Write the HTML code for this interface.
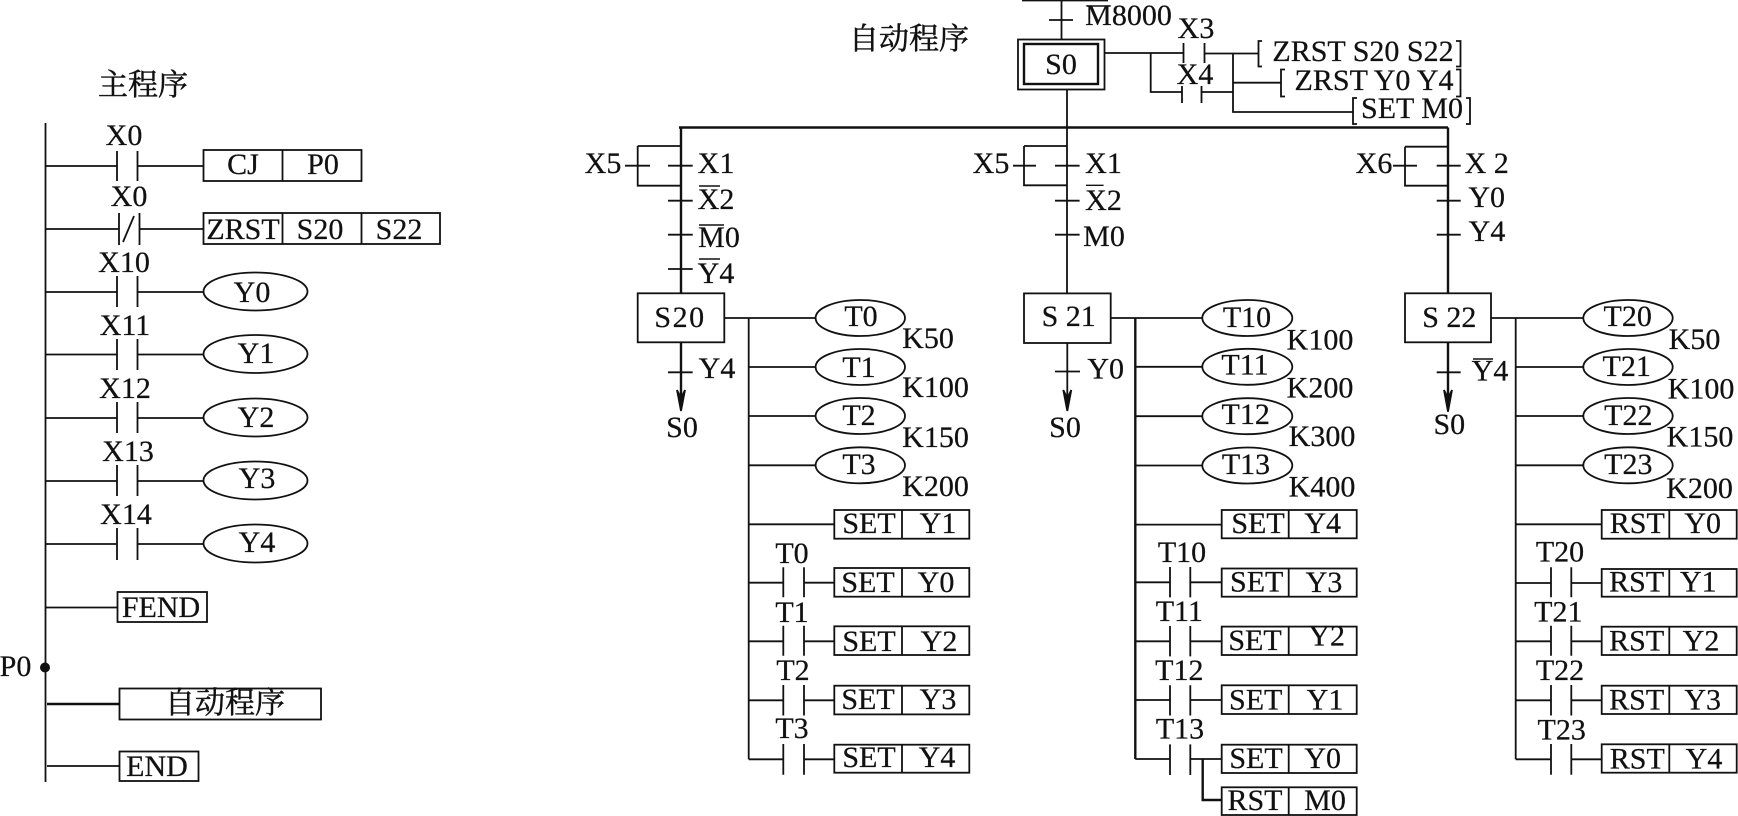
<!DOCTYPE html>
<html><head><meta charset="utf-8"><style>
html,body{margin:0;padding:0;background:#fff}
svg{display:block}
text{font-family:"Liberation Serif","Noto Serif CJK SC",serif;font-size:30px;fill:#111;stroke:#111;stroke-width:.25;text-anchor:middle}
.c{font-family:"Noto Serif CJK SC","Liberation Serif",serif;font-size:30px;text-anchor:start;stroke-width:.5}
path,rect,ellipse{fill:none;stroke:#111;stroke-width:1.8}
.b{stroke-width:2.4}
.t{stroke-width:1.4}
</style></head><body>
<svg width="1738" height="816" viewBox="0 0 1738 816" xmlns="http://www.w3.org/2000/svg">
<rect x="0" y="0" width="1738" height="816" style="fill:#fff;stroke:none"/>
<!-- main program -->
<text class="c" x="98" y="95">主程序</text>
<path d="M45.5 123V782"/>
<path d="M45 166H117M117 151V181M137.5 151V181M137.5 166H203.5"/>
<path d="M45 229H119M119 213V245M139.5 213V245M139.5 229H203.5M123 242L134 216"/>
<path d="M45 292H117M117 276V307M137.5 276V307M137.5 292H203.5"/>
<path d="M45 354.500H117M117 339V370M137.500 339V370M137.500 354.500H203.500"/>
<path d="M45 418H117M117 402V433M137.500 402V433M137.500 418H203.500"/>
<path d="M45 481H117M117 465V496M137.500 465V496M137.500 481H203.500"/>
<path d="M45 544H117M117 528V560M137.500 528V560M137.500 544H203.500"/>
<rect x="203.500" y="150" width="158" height="31"/><path d="M282.500 150V181"/>
<rect x="203.500" y="213" width="236.500" height="31"/><path d="M282.500 213V244M361.500 213V244"/>
<ellipse cx="255.500" cy="291.500" rx="52" ry="19"/>
<ellipse cx="255.500" cy="354" rx="52" ry="19"/>
<ellipse cx="255.500" cy="417.500" rx="52" ry="19"/>
<ellipse cx="255.500" cy="480.500" rx="52" ry="19"/>
<ellipse cx="255.500" cy="543.500" rx="52" ry="19"/>
<text x="124" y="145">X0</text><text x="129" y="206">X0</text><text x="124" y="272">X10</text><text x="125" y="335">X11</text><text x="125" y="398">X12</text><text x="128" y="461">X13</text><text x="126" y="524">X14</text>
<text x="243" y="174">CJ</text><text x="323" y="174">P0</text>
<text x="243" y="239">ZRST</text><text x="320" y="239">S20</text><text x="399" y="239">S22</text>
<text x="252" y="302">Y0</text><text x="256" y="363">Y1</text><text x="256" y="427">Y2</text><text x="257" y="488">Y3</text><text x="257" y="552">Y4</text>
<path d="M45 607.500H117.500"/><rect x="117.500" y="592" width="89.500" height="30"/><text x="161" y="617">FEND</text>
<text x="15.500" y="676">P0</text><circle cx="45" cy="667.500" r="5" style="fill:#111"/>
<path class="b" d="M47 704H119.500"/><rect x="119.500" y="688.500" width="201.500" height="31"/><text class="c" x="165" y="713">自动程序</text>
<path d="M47 766H119.500"/><rect x="119.500" y="751.500" width="79" height="29.500"/><text x="157" y="776">END</text>

<!-- top -->
<text class="c" x="849" y="49">自动程序</text>
<path d="M1022 .5H1108M1061.500 0V39.500M1049 20H1073"/>
<path class="t" d="M1087 6H1110"/>
<text x="1128.500" y="25">M8000</text>
<rect x="1018" y="39.500" width="86.500" height="50"/><rect x="1024" y="44" width="74" height="40" class="b"/>
<text x="1061" y="74">S0</text>
<path d="M1104.500 53H1183.500M1183.500 43V63M1204.500 43V63M1204.500 53.500H1258"/>
<path d="M1150.700 53V92H1182M1182 86V103M1201.500 86V103M1201.500 92H1233M1233 53.500V112H1353M1233 82.700H1281"/>
<path d="M1262 41H1258.500V66.500H1262M1285 69.500H1281V96.500H1285M1357 98H1353V124H1357M1456 41H1460.500V66.500H1456M1456 69.500H1460.500V96.500H1456M1466 98H1470V124H1466"/>
<text x="1196" y="38">X3</text><text x="1195" y="84">X4</text>
<text x="1363" y="61">ZRST S20 S22</text><text x="1374" y="90">ZRST Y0 Y4</text><text x="1412" y="118">SET M0</text>
<path class="b" d="M679 127.500H1448"/>

<!-- branch 1 -->
<path class="b" d="M681 127.500V293.300M681 342.300V398"/>
<path d="M637.700 146H681M637.700 146V185.700H681"/>
<path d="M625 165.700H650M668 165.700H692.700M668 200.700H692.700M668 234.700H692.700M668 269H692.700M668 372.300H692.700"/>
<path class="t" d="M699 186H720M699 225H724M699 259H720"/>
<text x="603" y="173">X5</text><text x="716" y="173">X1</text><text x="716" y="209">X2</text><text x="719" y="247">M0</text><text x="716" y="283">Y4</text>
<rect x="637.700" y="293.300" width="86.600" height="49"/><text x="680" y="327" style="letter-spacing:1.500px">S20</text>
<path d="M677 390L681 398L685 390L681 411Z" style="fill:#111"/>
<text x="717" y="378">Y4</text><text x="682" y="437">S0</text>
<path d="M724.300 318H815.700M748.700 318V759.300M748.700 367H815.700M748.700 416H815.700M748.700 465.300H815.700"/>
<ellipse cx="860.300" cy="318" rx="44.700" ry="18"/><ellipse cx="860.300" cy="367" rx="44.700" ry="18"/><ellipse cx="860.300" cy="416" rx="44.700" ry="18"/><ellipse cx="860.300" cy="465.300" rx="44.700" ry="18"/>
<text x="861" y="326">T0</text><text x="859" y="377">T1</text><text x="859" y="425">T2</text><text x="859" y="474">T3</text>
<text x="928" y="348">K50</text><text x="935.500" y="397">K100</text><text x="935.500" y="447">K150</text><text x="935.500" y="496">K200</text>
<path d="M748.700 524.300H834.300"/>
<path d="M748.700 582.700H783.300M783.300 567.300V597.300M804 567.300V597.300M804 582.700H834.300"/>
<path d="M748.700 641.300H783.300M783.300 625.700V655.700M804 625.700V655.700M804 641.300H834.300"/>
<path d="M748.700 700.300H783.300M783.300 685V715.500M804 685V715.500M804 700.300H834.300"/>
<path d="M748.700 759.300H783.300M783.300 744V774.700M804 744V774.700M804 759.300H834.300"/>
<rect x="834.300" y="510" width="135" height="28.700"/><path d="M902 510V538.700"/>
<rect x="834.300" y="568" width="135" height="28.700"/><path d="M902 568V596.700"/>
<rect x="834.300" y="626.300" width="135" height="28.700"/><path d="M902 626.300V655"/>
<rect x="834.300" y="685.700" width="135" height="28.700"/><path d="M902 685.700V714.300"/>
<rect x="834.300" y="744.700" width="135" height="28"/><path d="M902 744.700V772.700"/>
<text x="869" y="533">SET</text><text x="938" y="533">Y1</text>
<text x="868" y="592">SET</text><text x="936" y="592">Y0</text>
<text x="869" y="651">SET</text><text x="939" y="651">Y2</text>
<text x="868" y="709">SET</text><text x="938" y="709">Y3</text>
<text x="869" y="767">SET</text><text x="937" y="767">Y4</text>
<text x="792" y="563">T0</text><text x="792" y="622">T1</text><text x="793" y="680">T2</text><text x="792" y="738">T3</text>

<!-- branch 2 -->
<path d="M1067 89.500V293.300M1024 146H1067M1024 146V185.300H1067"/>
<path d="M1013 165.700H1036M1055 165.700H1079.600M1055 200.700H1079.600M1055 234.700H1079.600"/>
<path class="t" d="M1086 185.300H1103.600"/>
<text x="991" y="173">X5</text><text x="1103.500" y="173">X1</text><text x="1103.500" y="210">X2</text><text x="1104" y="246">M0</text>
<rect x="1024" y="293.400" width="86.700" height="49.600"/><text x="1068.700" y="326">S 21</text>
<path d="M1067.300 343V398M1055 371.500H1080"/>
<path d="M1063.300 390L1067.300 398L1071.300 390L1067.300 411Z" style="fill:#111"/>
<text x="1105.700" y="378.500">Y0</text><text x="1065" y="437">S0</text>
<path d="M1110.700 318H1202.300M1135.300 366.800H1202.300M1135.300 416.200H1202.300M1135.300 465.500H1202.300"/>
<path class="b" d="M1135.300 318V759"/>
<ellipse cx="1247.300" cy="318" rx="45" ry="18"/><ellipse cx="1247.300" cy="366.800" rx="45" ry="18"/><ellipse cx="1247.300" cy="416.200" rx="45" ry="18"/><ellipse cx="1247.300" cy="465.500" rx="45" ry="18"/>
<text x="1247" y="327">T10</text><text x="1245" y="374.500">T11</text><text x="1245.700" y="424">T12</text><text x="1246" y="474">T13</text>
<text x="1320" y="349.500">K100</text><text x="1320" y="397.500">K200</text><text x="1322" y="446">K300</text><text x="1322" y="496.500">K400</text>
<path d="M1135.300 524.600H1221.700"/>
<path d="M1135.300 582.300H1170M1170 567V597.400M1190.300 567V597.400M1190.300 582.300H1221.700"/>
<path d="M1135.300 641.300H1170M1170 626V656.400M1190.300 626V656.400M1190.300 641.300H1221.700"/>
<path d="M1135.300 700H1170M1170 685.300V715.500M1190.300 685.300V715.500M1190.300 700H1221.700"/>
<path d="M1135.300 759H1170M1170 744.400V775M1190.300 744.400V775M1190.300 759H1221.700"/>
<path class="b" d="M1202.700 759V800H1221.700"/>
<rect x="1221.700" y="510" width="135" height="28.300"/><path d="M1288.700 510V538.300"/>
<rect x="1221.700" y="568.500" width="135" height="28.200"/><path d="M1288.700 568.500V596.700"/>
<rect x="1221.700" y="626.600" width="135" height="28.400"/><path d="M1288.700 626.600V655"/>
<rect x="1221.700" y="685.300" width="135" height="28.700"/><path d="M1288.700 685.300V714"/>
<rect x="1221.700" y="744.700" width="135" height="28.300"/><path d="M1288.700 744.700V773"/>
<rect x="1221.700" y="787.300" width="135" height="27.700"/><path d="M1288.700 787.300V815"/>
<text x="1258" y="533">SET</text><text x="1322.700" y="533">Y4</text>
<text x="1256.700" y="591.500">SET</text><text x="1324" y="592">Y3</text>
<text x="1255" y="650">SET</text><text x="1326.700" y="645.700">Y2</text>
<text x="1255.700" y="709.500">SET</text><text x="1325" y="709.500">Y1</text>
<text x="1256" y="768">SET</text><text x="1322.700" y="768">Y0</text>
<text x="1255" y="810">RST</text><text x="1325" y="810">M0</text>
<text x="1182" y="562">T10</text><text x="1179.300" y="621">T11</text><text x="1179.300" y="680">T12</text><text x="1180" y="738.700">T13</text>

<!-- branch 3 -->
<path class="b" d="M1448 127.500V293.300M1448 342.300V398"/>
<path d="M1405 146.700H1448M1405 146.700V185.700H1448"/>
<path d="M1393 165.700H1417M1436.700 165.700H1460.700M1436.700 200.700H1460.700M1436.700 234.700H1460.700M1436.700 372.300H1460.700"/>
<path class="t" d="M1473 359H1493"/>
<text x="1374" y="173">X6</text><text x="1486.700" y="173">X 2</text><text x="1486.700" y="207">Y0</text><text x="1487" y="241">Y4</text>
<rect x="1405" y="293.300" width="86" height="49"/><text x="1449.300" y="327">S 22</text>
<path d="M1444 390L1448 398L1452 390L1448 411.700Z" style="fill:#111"/>
<text x="1490" y="380.700">Y4</text><text x="1449.300" y="434">S0</text>
<path d="M1491 318H1583.300M1515.700 318V759.300M1515.700 367H1583.300M1515.700 416H1583.300M1515.700 465.300H1583.300"/>
<ellipse cx="1628" cy="318" rx="44.700" ry="18"/><ellipse cx="1628" cy="367" rx="44.700" ry="18"/><ellipse cx="1628" cy="416" rx="44.700" ry="18"/><ellipse cx="1628" cy="465.300" rx="44.700" ry="18"/>
<text x="1627.700" y="326">T20</text><text x="1626.700" y="376">T21</text><text x="1628.300" y="425">T22</text><text x="1628.300" y="474">T23</text>
<text x="1694.500" y="349">K50</text><text x="1701" y="398.300">K100</text><text x="1700" y="446.700">K150</text><text x="1699.500" y="498">K200</text>
<path d="M1515.700 524.300H1601.700"/>
<path d="M1515.700 583H1551M1551 567.300V597.300M1571.300 567.300V597.300M1571.300 583H1601.700"/>
<path d="M1515.700 641.300H1551M1551 625.700V655.700M1571.300 625.700V655.700M1571.300 641.300H1601.700"/>
<path d="M1515.700 700.300H1551M1551 685V715.500M1571.300 685V715.500M1571.300 700.300H1601.700"/>
<path d="M1515.700 759.300H1551M1551 744V774.700M1571.300 744V774.700M1571.300 759.300H1601.700"/>
<rect x="1601.700" y="510" width="135" height="28.700"/><path d="M1669.300 510V538.700"/>
<rect x="1601.700" y="569" width="135" height="27.700"/><path d="M1669.300 569V596.700"/>
<rect x="1601.700" y="626.700" width="135" height="28.300"/><path d="M1669.300 626.700V655"/>
<rect x="1601.700" y="685.700" width="135" height="28.300"/><path d="M1669.300 685.700V714"/>
<rect x="1601.700" y="744.300" width="135" height="28.400"/><path d="M1669.300 744.300V772.700"/>
<text x="1637.300" y="533">RST</text><text x="1702.700" y="533">Y0</text>
<text x="1636.700" y="591.700">RST</text><text x="1698.300" y="591.700">Y1</text>
<text x="1636.700" y="650.700">RST</text><text x="1701" y="650.700">Y2</text>
<text x="1636.700" y="709.300">RST</text><text x="1702.700" y="709.300">Y3</text>
<text x="1637.300" y="768.300">RST</text><text x="1704" y="768.300">Y4</text>
<text x="1560" y="561.700">T20</text><text x="1558.300" y="621.700">T21</text><text x="1560" y="680">T22</text><text x="1561.700" y="739.300">T23</text>
</svg>
</body></html>
